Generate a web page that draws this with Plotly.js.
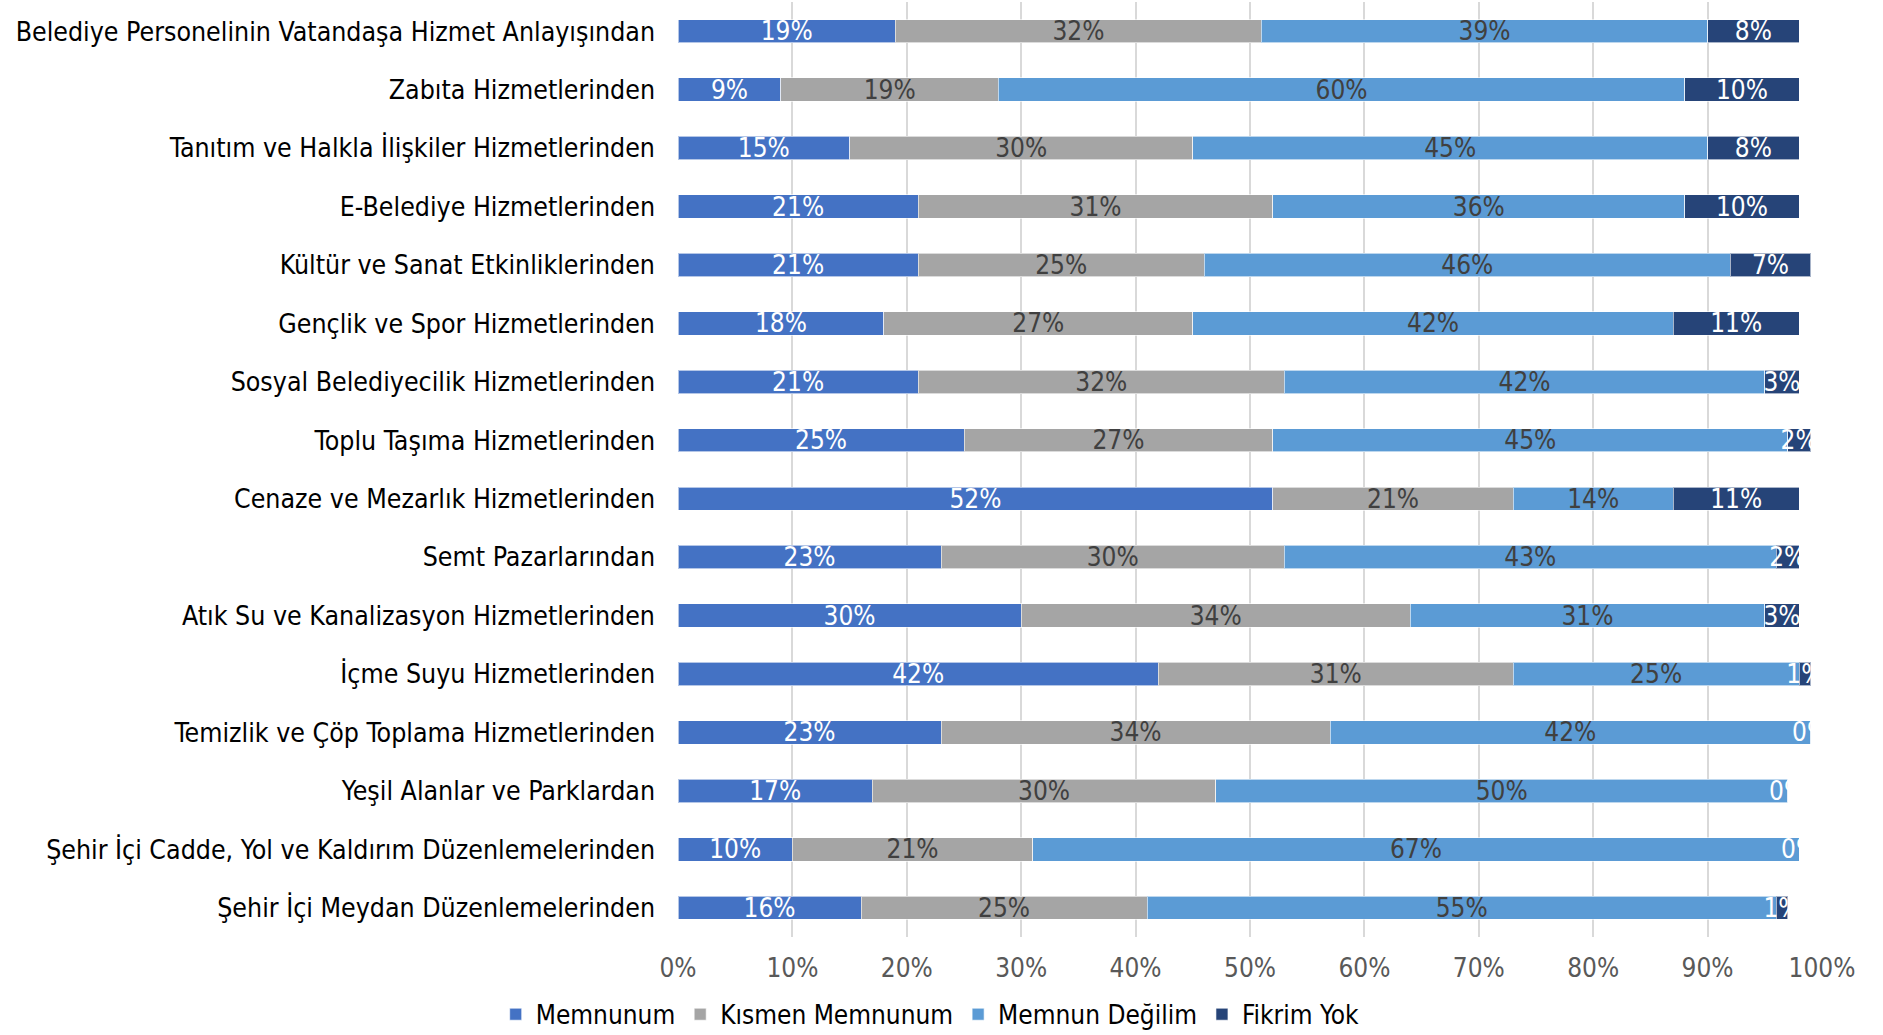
<!DOCTYPE html>
<html>
<head>
<meta charset="utf-8">
<script src="https://cdn.plot.ly/plotly-3.0.1.min.js"></script>
<style>html,body{margin:0;padding:0;background:#fff;}#chart{width:1883px;height:1035px;}</style>
</head>
<body>
<div id="chart"></div>
<script>
const categories = [
  "Belediye Personelinin Vatandaşa Hizmet Anlayışından",
  "Zabıta Hizmetlerinden",
  "Tanıtım ve Halkla İlişkiler Hizmetlerinden",
  "E-Belediye Hizmetlerinden",
  "Kültür ve Sanat Etkinliklerinden",
  "Gençlik ve Spor Hizmetlerinden",
  "Sosyal Belediyecilik Hizmetlerinden",
  "Toplu Taşıma Hizmetlerinden",
  "Cenaze ve Mezarlık Hizmetlerinden",
  "Semt Pazarlarından",
  "Atık Su ve Kanalizasyon Hizmetlerinden",
  "İçme Suyu Hizmetlerinden",
  "Temizlik ve Çöp Toplama Hizmetlerinden",
  "Yeşil Alanlar ve Parklardan",
  "Şehir İçi Cadde, Yol ve Kaldırım Düzenlemelerinden",
  "Şehir İçi Meydan Düzenlemelerinden"
];
const memnunum        = [19, 9, 15, 21, 21, 18, 21, 25, 52, 23, 30, 42, 23, 17, 10, 16];
const kismenMemnunum  = [32, 19, 30, 31, 25, 27, 32, 27, 21, 30, 34, 31, 34, 30, 21, 25];
const memnunDegilim   = [39, 60, 45, 36, 46, 42, 42, 45, 14, 43, 31, 25, 42, 50, 67, 55];
const fikrimYok       = [8, 10, 8, 10, 7, 11, 3, 2, 11, 2, 3, 1, 0, 0, 0, 1];
const seriesNames = ["Memnunum", "Kısmen Memnunum", "Memnun Değilim", "Fikrim Yok"];
const tickVals = [0,10,20,30,40,50,60,70,80,90,100];

const FONT = "DejaVu Sans Condensed, DejaVu Sans, sans-serif";
const colors = ["#4472C4", "#A5A5A5", "#5B9BD5", "#264478"];
const textColors = ["#FFFFFF", "#404040", "#404040", "#FFFFFF"];
const allSeries = [memnunum, kismenMemnunum, memnunDegilim, fikrimYok];

const traces = allSeries.map((vals, i) => ({
  type: "bar",
  orientation: "h",
  name: seriesNames[i],
  y: categories,
  x: vals,
  marker: {color: colors[i], line: {color: "rgba(255,255,255,0.6)", width: 1}},
  text: vals.map(v => v + "%"),
  textposition: "inside",
  insidetextanchor: "middle",
  textangle: 0,
  constraintext: "none",
  cliponaxis: false,
  insidetextfont: {family: FONT, size: 26, color: textColors[i]},
  hoverinfo: "skip"
}));

// labels for zero-width "Fikrim Yok" segments, placed at the end of each stacked bar
const annotations = [];
categories.forEach((c, k) => {
  if (fikrimYok[k] === 0) {
    const end = memnunum[k] + kismenMemnunum[k] + memnunDegilim[k] + fikrimYok[k];
    annotations.push({
      x: end, y: c, xref: "x", yref: "y",
      text: fikrimYok[k] + "%", showarrow: false,
      xanchor: "center", yanchor: "middle",
      font: {family: FONT, size: 26, color: "#FFFFFF"}
    });
  }
});

const layout = {
  barmode: "stack",
  bargap: 0.6,
  width: 1883,
  height: 1035,
  paper_bgcolor: "#FFFFFF",
  plot_bgcolor: "#FFFFFF",
  margin: {l: 678, r: 61, t: 2, b: 98},
  font: {family: FONT, size: 26, color: "#000000"},
  annotations: annotations,
  xaxis: {
    range: [0, 100],
    tickvals: tickVals,
    ticktext: tickVals.map(v => v + "%"),
    showgrid: true,
    gridcolor: "#D9D9D9",
    gridwidth: 2,
    zeroline: false,
    showline: false,
    ticks: "",
    tickfont: {family: FONT, size: 26, color: "#595959"},
    ticklabelstandoff: 13,
    fixedrange: true
  },
  yaxis: {
    autorange: "reversed",
    type: "category",
    showgrid: false,
    zeroline: false,
    showline: false,
    ticks: "",
    ticklabelstandoff: 22,
    tickfont: {family: FONT, size: 26.5, color: "#000000"},
    fixedrange: true
  },
  showlegend: true,
  legend: {
    orientation: "h",
    xref: "container",
    yref: "container",
    x: 0.494,
    xanchor: "center",
    y: 0.02,
    yanchor: "middle",
    font: {family: FONT, size: 26, color: "#000000"},
    traceorder: "normal",
    itemwidth: 30,
    tracegroupgap: 0
  }
};

Plotly.newPlot("chart", traces, layout, {displayModeBar: false, staticPlot: true});
</script>
</body>
</html>
